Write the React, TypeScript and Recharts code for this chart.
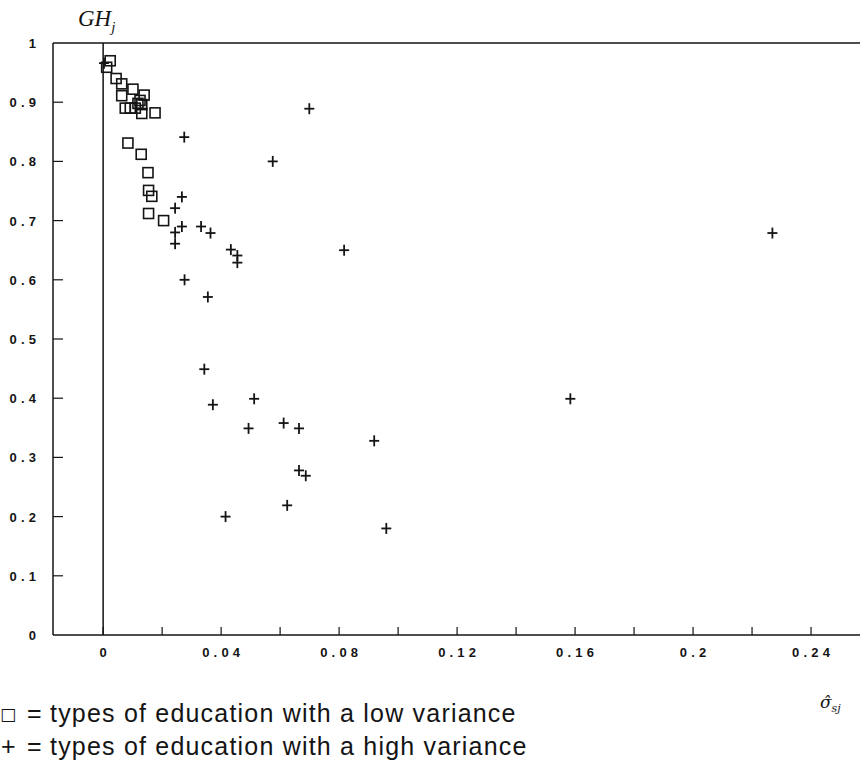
import { ScatterChart, Scatter, XAxis, YAxis, ReferenceLine } from 'recharts';

// axis ticks
const xTicks = [0, 0.02, 0.04, 0.06, 0.08, 0.1, 0.12, 0.14, 0.16, 0.18, 0.2, 0.22, 0.24];
const xLabelled = [0, 0.04, 0.08, 0.12, 0.16, 0.2, 0.24];
const yTicks = [0, 0.1, 0.2, 0.3, 0.4, 0.5, 0.6, 0.7, 0.8, 0.9, 1];

// types of education with a low variance (squares)
const lowVarX = [0.0012, 0.0024, 0.0044, 0.0063, 0.0063, 0.0101, 0.0125, 0.0139, 0.0075, 0.0092, 0.0109, 0.0131, 0.0131, 0.0176, 0.0118, 0.0084, 0.0129, 0.0152, 0.0154, 0.0165, 0.0154, 0.0205];
const lowVarY = [0.959, 0.970, 0.940, 0.931, 0.911, 0.922, 0.903, 0.912, 0.890, 0.890, 0.890, 0.896, 0.881, 0.882, 0.898, 0.831, 0.812, 0.781, 0.751, 0.741, 0.712, 0.700];

// types of education with a high variance (plus signs)
const highVarX = [0.0003, 0.0699, 0.0275, 0.0575, 0.0267, 0.0244, 0.0267, 0.0244, 0.0332, 0.0364, 0.0244, 0.0433, 0.0455, 0.0455, 0.0817, 0.0276, 0.0355, 0.0343, 0.0372, 0.0512, 0.0493, 0.0612, 0.0664, 0.0919, 0.0664, 0.0687, 0.0624, 0.0415, 0.0960, 0.2269, 0.1584];
const highVarY = [0.966, 0.889, 0.841, 0.800, 0.740, 0.721, 0.690, 0.680, 0.690, 0.679, 0.661, 0.651, 0.641, 0.629, 0.650, 0.600, 0.571, 0.449, 0.389, 0.399, 0.349, 0.358, 0.349, 0.328, 0.278, 0.269, 0.219, 0.200, 0.180, 0.679, 0.399];

const lowVar = lowVarX.map((x, i) => ({ x, y: lowVarY[i] }));
const highVar = highVarX.map((x, i) => ({ x, y: highVarY[i] }));

const INK = '#141414';
const TICK_FONT = '"Liberation Sans", Arial, sans-serif';
const LS = 4.2;

function fmt(v: number) {
  return String(Math.round(v * 100) / 100);
}

function SquareMark({ cx, cy }: { cx?: number; cy?: number }) {
  if (cx == null || cy == null) return null;
  return <rect x={cx - 5} y={cy - 5} width={10} height={10} fill="none" stroke={INK} strokeWidth={1.6} />;
}

function PlusMark({ cx, cy }: { cx?: number; cy?: number }) {
  if (cx == null || cy == null) return null;
  return (
    <g stroke={INK} strokeWidth={1.8}>
      <line x1={cx - 5} y1={cy} x2={cx + 5} y2={cy} />
      <line x1={cx} y1={cy - 5.5} x2={cx} y2={cy + 5.5} />
    </g>
  );
}

function XTick({ x, y, payload }: { x?: number; y?: number; payload?: { value: number } }) {
  if (x == null || y == null || !payload) return null;
  const v = payload.value;
  const labelled = xLabelled.some((t) => Math.abs(t - v) < 1e-9);
  return (
    <g>
      <line x1={x} y1={y} x2={x} y2={y - 8} stroke={INK} strokeWidth={1.2} />
      {labelled && (
        <text x={x + LS / 2} y={y + 22} textAnchor="middle" fontFamily={TICK_FONT} fontWeight="bold" fontSize={13} letterSpacing={LS} fill={INK}>
          {fmt(v)}
        </text>
      )}
    </g>
  );
}

function YTick({ x, y, payload }: { x?: number; y?: number; payload?: { value: number } }) {
  if (x == null || y == null || !payload) return null;
  const v = payload.value;
  return (
    <g>
      {v > 0 && v < 1 && <line x1={x} y1={y} x2={x + 10} y2={y} stroke={INK} strokeWidth={1.2} />}
      <text x={x - 17 + LS} y={y + 5} textAnchor="end" fontFamily={TICK_FONT} fontWeight="bold" fontSize={13} letterSpacing={LS} fill={INK}>
        {fmt(v)}
      </text>
    </g>
  );
}

const legendFont = '"Liberation Sans", Arial, sans-serif';
const legendLine = {
  position: 'absolute' as const,
  left: 0,
  fontFamily: legendFont,
  fontSize: 25,
  lineHeight: '25px',
  letterSpacing: 1.2,
  color: INK,
  whiteSpace: 'nowrap' as const,
};

export default function App() {
  return (
    <div style={{ position: 'absolute', left: 0, top: 0, width: 863, height: 760, background: '#fff', overflow: 'hidden' }}>
      <ScatterChart width={863} height={760} margin={{ top: 43, right: 3, left: 0, bottom: 85 }}>
        <XAxis
          type="number"
          dataKey="x"
          domain={[-0.017, 0.2566]}
          allowDataOverflow
          ticks={xTicks}
          interval={0}
          height={40}
          tickSize={0}
          tickMargin={0}
          tickLine={false}
          axisLine={{ stroke: INK, strokeWidth: 1.5 }}
          tick={<XTick />}
        />
        <YAxis
          type="number"
          dataKey="y"
          domain={[0, 1]}
          allowDataOverflow
          ticks={yTicks}
          interval={0}
          width={53}
          tickSize={0}
          tickMargin={0}
          tickLine={false}
          axisLine={{ stroke: INK, strokeWidth: 1.5 }}
          tick={<YTick />}
        />
        <ReferenceLine y={1} stroke={INK} strokeWidth={1.5} />
        <ReferenceLine x={0} stroke={INK} strokeWidth={1.5} />
        <Scatter data={lowVar} shape={<SquareMark />} isAnimationActive={false} />
        <Scatter data={highVar} shape={<PlusMark />} isAnimationActive={false} />
      </ScatterChart>

      <div style={{ position: 'absolute', left: 78, top: 7, fontFamily: '"Liberation Serif", serif', fontStyle: 'italic', fontSize: 23, color: INK, lineHeight: '23px' }}>
        GH<sub style={{ fontSize: 15 }}>j</sub>
      </div>
      <div style={{ position: 'absolute', left: 820, top: 692, fontFamily: '"DejaVu Serif", serif', fontStyle: 'italic', fontSize: 17, color: INK, lineHeight: '20px' }}>
        σ̂<sub style={{ fontSize: 11 }}>sj</sub>
      </div>

      <div style={{ ...legendLine, top: 701 }}>
        <span style={{ position: 'absolute', left: 0, top: 1, fontFamily: '"DejaVu Sans", sans-serif', fontSize: 17, letterSpacing: 0 }}>□</span>
        <span style={{ position: 'absolute', left: 27 }}>=</span>
        <span style={{ position: 'absolute', left: 50 }}>types of education with a low variance</span>
      </div>
      <div style={{ ...legendLine, top: 734 }}>
        <span style={{ position: 'absolute', left: 1 }}>+</span>
        <span style={{ position: 'absolute', left: 27 }}>=</span>
        <span style={{ position: 'absolute', left: 50 }}>types of education with a high variance</span>
      </div>
    </div>
  );
}
